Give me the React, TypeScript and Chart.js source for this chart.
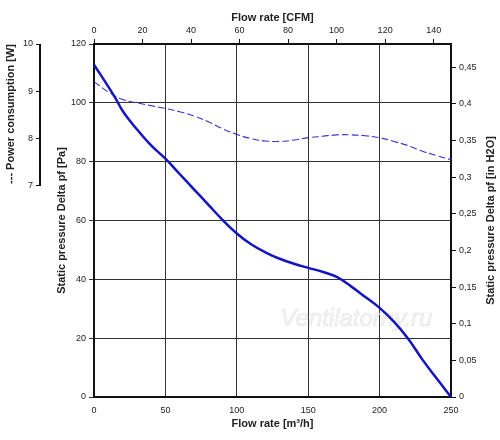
import React, { useEffect, useRef } from 'react';
import { Chart, registerables } from 'chart.js';

Chart.register(...registerables);

// pressure curve (m³/h -> Pa)
const FLOW_M3H = [0, 10, 15, 20, 25, 30, 40, 50, 60, 70, 80, 90, 100, 110, 120, 130, 140, 150, 160, 170, 180, 190, 200, 210, 220, 230, 240, 250];
const PRESSURE_PA = [113, 105.5, 101.6, 97.3, 94, 91, 85.5, 81, 75.8, 70.6, 65.4, 60.2, 55.6, 51.9, 49.2, 47, 45.3, 43.9, 42.6, 40.8, 37.6, 34, 30.3, 25.6, 19.8, 12.7, 6.3, 0];

// power consumption curve (m³/h -> W)
const POWER_FLOW = [0, 10, 20, 30, 40, 50, 60, 70, 80, 90, 100, 110, 120, 130, 140, 150, 160, 170, 180, 190, 200, 210, 220, 230, 240, 250];
const POWER_W = [9.2, 8.98, 8.82, 8.75, 8.69, 8.63, 8.56, 8.47, 8.35, 8.2, 8.08, 7.99, 7.94, 7.93, 7.96, 8.01, 8.04, 8.07, 8.07, 8.05, 8.01, 7.93, 7.84, 7.72, 7.63, 7.54];

// tick labels
const TICKS_M3H = [0, 50, 100, 150, 200, 250];
const TICKS_CFM = [0, 20, 40, 60, 80, 100, 120, 140];
const TICKS_PA = [0, 20, 40, 60, 80, 100, 120];
const TICKS_INH2O = [0, 0.05, 0.1, 0.15, 0.2, 0.25, 0.3, 0.35, 0.4, 0.45];
const TICKS_W = [7, 8, 9, 10];

const M3H_TO_CFM = 0.5886;
const PA_TO_INH2O = 0.0040146;

const FONT = "'Liberation Sans', Arial, sans-serif";
const tickFont = { size: 9, family: FONT };
const titleFont = { size: 11, weight: 'bold' as const, family: FONT };
const INK = '#222';

const setTicks = (vals: number[]) => (s: any) => {
  s.ticks = vals.map(v => ({ value: v }));
};

const extrasPlugin = {
  id: 'extras',
  beforeDatasetsDraw(chart: any) {
    const { ctx, chartArea } = chart;
    ctx.save();
    ctx.font = `italic 24px ${FONT}`;
    ctx.textAlign = 'center';
    ctx.textBaseline = 'middle';
    ctx.fillStyle = 'rgba(244,244,244,0.9)';
    ctx.strokeStyle = 'rgba(215,215,215,0.55)';
    ctx.lineWidth = 0.7;
    const wx = chartArea.left + (chartArea.right - chartArea.left) * 0.735;
    ctx.fillText('Ventilatorny.ru', wx, 319);
    ctx.strokeText('Ventilatorny.ru', wx, 319);
    ctx.restore();
  },
  afterDraw(chart: any) {
    const { ctx, chartArea } = chart;
    const pw = chart.scales.yPower;
    ctx.save();
    // short axis line for power scale
    ctx.strokeStyle = '#111';
    ctx.lineWidth = 2;
    ctx.beginPath();
    ctx.moveTo(pw.right - 1, pw.getPixelForValue(10));
    ctx.lineTo(pw.right - 1, pw.getPixelForValue(7));
    ctx.stroke();
    // right axis title reading upward
    ctx.font = `bold 11px ${FONT}`;
    ctx.fillStyle = INK;
    ctx.textAlign = 'center';
    ctx.textBaseline = 'middle';
    ctx.translate(491, (chartArea.top + chartArea.bottom) / 2);
    ctx.rotate(-Math.PI / 2);
    ctx.fillText('Static pressure Delta pf [in H2O]', 0, 0);
    ctx.restore();
  },
};

const FanCurveChart: React.FC = () => {
  const canvasRef = useRef<HTMLCanvasElement>(null);
  const chartRef = useRef<Chart | null>(null);

  useEffect(() => {
    document.body.style.margin = '0';
    if (!canvasRef.current) return;
    if (chartRef.current) chartRef.current.destroy();

    const pressure = FLOW_M3H.map((q, i) => ({ x: q, y: PRESSURE_PA[i] }));
    const power = POWER_FLOW.map((q, i) => ({ x: q, y: POWER_W[i] }));

    chartRef.current = new Chart(canvasRef.current, {
      type: 'line',
      data: {
        datasets: [
          {
            label: 'Static pressure',
            data: pressure,
            xAxisID: 'x',
            yAxisID: 'y',
            borderColor: '#1414c4',
            borderWidth: 2.5,
            pointRadius: 0,
            tension: 0.4,
            fill: false,
          },
          {
            label: 'Power consumption',
            data: power,
            xAxisID: 'x',
            yAxisID: 'yPower',
            borderColor: '#3535cf',
            borderWidth: 1.1,
            borderDash: [7, 3],
            pointRadius: 0,
            tension: 0.4,
            fill: false,
          },
        ],
      },
      options: {
        responsive: true,
        maintainAspectRatio: false,
        animation: false,
        layout: { padding: 0 },
        plugins: {
          legend: { display: false },
          tooltip: { enabled: false },
        },
        scales: {
          x: {
            type: 'linear',
            position: 'bottom',
            min: 0,
            max: 250,
            afterBuildTicks: setTicks(TICKS_M3H),
            afterFit: (s: any) => { s.height = 43; },
            grid: { color: '#333', lineWidth: 1, drawTicks: false },
            border: { color: '#111', width: 2 },
            ticks: { font: tickFont, color: INK, padding: 8, maxRotation: 0 },
            title: { display: true, text: 'Flow rate [m³/h]', font: titleFont, color: INK, padding: { top: 0, bottom: 9 } },
          },
          xCfm: {
            type: 'linear',
            position: 'top',
            min: 0,
            max: 250 * M3H_TO_CFM,
            afterBuildTicks: setTicks(TICKS_CFM),
            afterFit: (s: any) => { s.height = 44; },
            grid: { drawOnChartArea: false, color: '#111', tickLength: 5 },
            border: { color: '#111', width: 2 },
            ticks: { font: tickFont, color: INK, padding: 3, maxRotation: 0 },
            title: { display: true, text: 'Flow rate [CFM]', font: titleFont, color: INK, padding: { top: 11, bottom: 0 } },
          },
          y: {
            type: 'linear',
            position: 'left',
            weight: 0,
            min: 0,
            max: 120,
            afterBuildTicks: setTicks(TICKS_PA),
            afterFit: (s: any) => { s.width = 53; },
            grid: { color: '#333', lineWidth: 1, tickLength: 5 },
            border: { color: '#111', width: 2 },
            ticks: { font: tickFont, color: INK, padding: 3 },
            title: { display: true, text: 'Static pressure Delta pf [Pa]', font: titleFont, color: INK, padding: { top: 14, bottom: 0 } },
          },
          yPower: {
            type: 'linear',
            position: 'left',
            weight: 1,
            min: 10 - 120 / 16,
            max: 10,
            afterBuildTicks: setTicks(TICKS_W),
            afterFit: (s: any) => { s.width = 41; },
            grid: { drawOnChartArea: false, color: '#111', tickLength: 5 },
            border: { display: false },
            ticks: { font: tickFont, color: INK, padding: 3 },
            title: { display: true, text: '--- Power consumption [W]', align: 'end', font: titleFont, color: INK, padding: { top: 4, bottom: 0 } },
          },
          yIn: {
            type: 'linear',
            position: 'right',
            min: 0,
            max: 120 * PA_TO_INH2O,
            afterBuildTicks: setTicks(TICKS_INH2O),
            afterFit: (s: any) => { s.width = 49; },
            grid: { drawOnChartArea: false, color: '#111', tickLength: 5 },
            border: { color: '#111', width: 2 },
            ticks: {
              font: tickFont,
              color: INK,
              padding: 3,
              callback: (v: any) => String(+(v as number).toFixed(2)).replace('.', ','),
            },
            title: { display: false },
          },
        },
      },
      plugins: [extrasPlugin],
    });

    return () => {
      if (chartRef.current) {
        chartRef.current.destroy();
        chartRef.current = null;
      }
    };
  }, []);

  return (
    <div style={{ width: '500px', height: '440px', position: 'relative' }}>
      <canvas ref={canvasRef}></canvas>
    </div>
  );
};

export default function App() {
  return <FanCurveChart />;
}
